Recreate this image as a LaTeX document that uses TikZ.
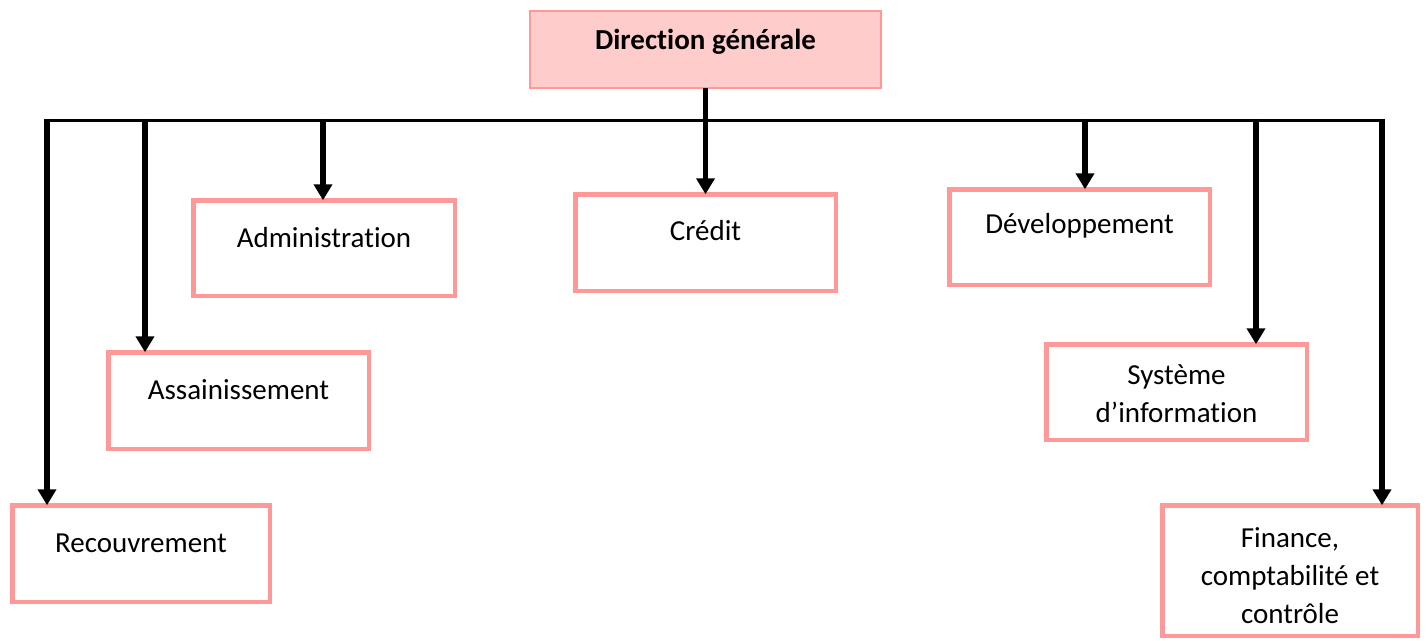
\documentclass[tikz,border=0pt]{standalone}
\usepackage{fontspec}
\setmainfont{Carlito}[Ligatures=CommonOff]
\usetikzlibrary{arrows.meta}
\definecolor{pinkline}{HTML}{FF9999}
\definecolor{pinkfill}{HTML}{FFCCCC}
\begin{document}
\begin{tikzpicture}[x=1pt,y=-1pt,
  box/.style={draw=pinkline,line width=4.5pt,fill=white,inner sep=0pt,outer sep=0pt},
  topbox/.style={draw=pinkline,line width=2.5pt,fill=pinkfill,inner sep=0pt,outer sep=0pt},
  lbl/.style={font=\fontsize{29}{38}\selectfont,align=center,inner sep=0pt},
  bus/.style={line width=3pt},
  arr/.style={line width=5.5pt,-{Triangle[width=18pt,length=16pt]}}]
\useasboundingbox (0,0) rectangle (1426,640);
% boxes
\node[topbox,minimum width=351pt,minimum height=77pt] (dg) at (705.5,49.5) {};
\node[box,minimum width=261.5pt,minimum height=95.5pt] (adm) at (324,248) {};
\node[box,minimum width=260.5pt,minimum height=96.5pt] (ass) at (238.5,400.5) {};
\node[box,minimum width=257.5pt,minimum height=96.5pt] (rec) at (141,553.5) {};
\node[box,minimum width=260.5pt,minimum height=96.5pt] (cre) at (705.5,242.5) {};
\node[box,minimum width=260.5pt,minimum height=95.5pt] (dev) at (1079.5,237) {};
\node[box,minimum width=260.5pt,minimum height=95.5pt] (sys) at (1176.5,392) {};
\node[box,minimum width=255.5pt,minimum height=130.5pt] (fin) at (1290,570.5) {};
% texts
\node[lbl,font=\fontsize{29}{38}\selectfont\bfseries] (tdg) at (705.5,42) {Direction générale};
\node[lbl] (tadm) at (324,238) {Administration};
\node[lbl] (tass) at (238.5,390) {Assainissement};
\node[lbl] (trec) at (141,543) {Recouvrement};
\node[lbl] (tcre) at (705.5,231) {Crédit};
\node[lbl] (tdev) at (1079.5,226) {Développement};
\node[lbl] (tsys) at (1176.5,393.5) {Système\\d’information};
\node[lbl] (tfin) at (1290,576) {Finance,\\comptabilité et\\contrôle};
% bus
\coordinate (busL) at (47,120);
\coordinate (busR) at (1382,120);
\draw[bus] (busL) -- (busR);
\coordinate (sRec) at (47,118.5);
\coordinate (sAss) at (145,118.5);
\coordinate (sAdm) at (323,118.5);
\coordinate (sDev) at (1085,118.5);
\coordinate (sSys) at (1256,118.5);
\coordinate (sFin) at (1382,118.5);
% arrows
\draw[arr] (dg.south) -- (cre.north);
\draw[arr] (sRec) -- (sRec |- rec.north);
\draw[arr] (sAss) -- (sAss |- ass.north);
\draw[arr] (sAdm) -- (sAdm |- adm.north);
\draw[arr] (sDev) -- (sDev |- dev.north);
\draw[arr] (sSys) -- (sSys |- sys.north);
\draw[arr] (sFin) -- (sFin |- fin.north);
\end{tikzpicture}
\end{document}
